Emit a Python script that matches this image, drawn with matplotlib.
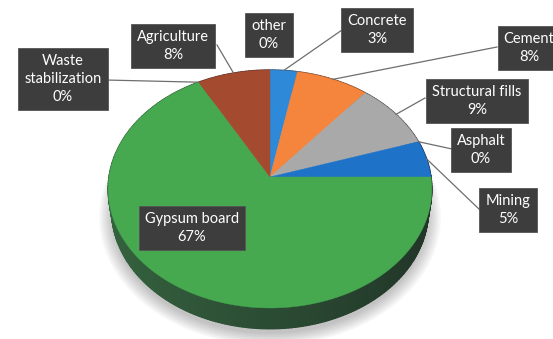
import numpy as np
import matplotlib
matplotlib.use("Agg")
import matplotlib.pyplot as plt
from matplotlib.colors import to_rgb

# Gypsum end uses (percent)
categories = ["Concrete", "Cement", "Structural fills", "Asphalt", "Mining",
              "Gypsum board", "Waste\nstabilization", "Agriculture", "other"]
shares = [3, 8, 9, 0, 5, 67, 0, 8, 0]
colors = ["#2E8AD8", "#F5843C", "#A9A9A9", "#7F7F7F", "#1E73C8",
          "#46A84F", "#5E5E5E", "#A44A2F", "#4F81BD"]

# label box centres and where the leader line meets the box (pixels)
label_xy = [(377, 30), (529, 48), (477, 101), (481, 150), (508, 210),
            (192, 228), (63, 79), (173, 46), (269, 35)]
leader_end = [(342, 30), (497, 47), (425, 98), (452, 149), (480, 210),
              None, (105, 80), (217, 45), None]

W, H = 553, 339
cx, cy, S = 270, 177, 161          # pie centre and radius in pixels
D = 6.76                           # camera distance (in radii)
elev = np.radians(47)
T = 0.2                            # pie thickness
se, ce = np.sin(elev), np.cos(elev)


def proj(phi, h=0.0, r=1.0):
    # phi runs clockwise from the far point of the disc
    x = r * np.sin(phi)
    z = -r * np.cos(phi)
    depth = D - h * se - z * ce
    sx = x * D / depth
    sy = (h * ce - z * se) * D / depth
    return cx + S * sx, cy - S * sy


def side_color(i, phi):
    f = 0.36 - 0.14 * np.sin(phi)
    base = np.array(to_rgb(colors[i]))
    return np.clip(base * f + np.array([0.07, 0.06, 0.09]), 0, 1)


fig = plt.figure(figsize=(W / 100, H / 100), dpi=100)
ax = fig.add_axes([0, 0, 1, 1])
ax.set_xlim(0, W)
ax.set_ylim(H, 0)
ax.axis("off")

fracs = np.array(shares, dtype=float) / sum(shares)
starts = np.concatenate([[0], np.cumsum(fracs)[:-1]]) * 2 * np.pi
ends = np.cumsum(fracs) * 2 * np.pi

# soft shadow under the pie
ring = np.linspace(0, 2 * np.pi, 200)
for r in np.linspace(1.08, 1.0, 8):
    sx, sy = proj(ring, -T - 0.02, r)
    ax.fill(sx, sy + 3, color="#000000", alpha=0.03, lw=0, zorder=1)

# side wall: a plain band per slice, then shaded strips on top of it
segs = []
for i, (a0, a1) in enumerate(zip(starts, ends)):
    if a1 - a0 <= 0:
        continue
    n = max(2, int(np.degrees(a1 - a0)))
    angs = np.linspace(a0, a1, n + 1)
    tx, ty = proj(angs)
    bx, by = proj(angs[::-1], -T)
    c = side_color(i, 0.5 * (a0 + a1))
    ax.fill(np.concatenate([tx, bx]), np.concatenate([ty, by]),
            color=c, lw=0, zorder=2)
    for p, q in zip(angs[:-1], angs[1:]):
        mid = 0.5 * (p + q)
        segs.append((-np.cos(mid), i, p, q, mid))
segs.sort(key=lambda s: s[0])
for _, i, p, q, mid in segs:
    c = side_color(i, mid)
    x0, y0 = proj(p)
    x1, y1 = proj(q)
    x2, y2 = proj(q, -T)
    x3, y3 = proj(p, -T)
    ax.fill([x0, x1, x2, x3], [y0, y1, y2, y3], color=c, lw=1.0, ec=c,
            zorder=2.5)

# top faces
for i, (a0, a1) in enumerate(zip(starts, ends)):
    if a1 - a0 <= 0:
        continue
    angs = np.linspace(a0, a1, max(3, int(np.degrees(a1 - a0)) * 2))
    ex, ey = proj(angs)
    ax.fill(np.concatenate([[cx], ex]), np.concatenate([[cy], ey]),
            color=colors[i], lw=0.3, ec=colors[i], zorder=3)

# labels and leader lines
for i, name in enumerate(categories):
    text = f"{name}\n{shares[i]}%"
    lx, ly = label_xy[i]
    ax.text(lx, ly, text, ha="center", va="center", ma="center",
            color="white", fontsize=10.5, family="Lato", linespacing=1.35,
            bbox=dict(boxstyle="square,pad=0.42", fc="#3D3D3D", ec="#555555", lw=0.6),
            zorder=6)
    if leader_end[i] is not None:
        mid = 0.5 * (starts[i] + ends[i])
        px, py = proj(mid)
        ex, ey = leader_end[i]
        ax.plot([px, ex], [py, ey], color="#6E6E6E", lw=0.9, zorder=5)

fig.savefig("out.png", dpi=100, facecolor="white")
